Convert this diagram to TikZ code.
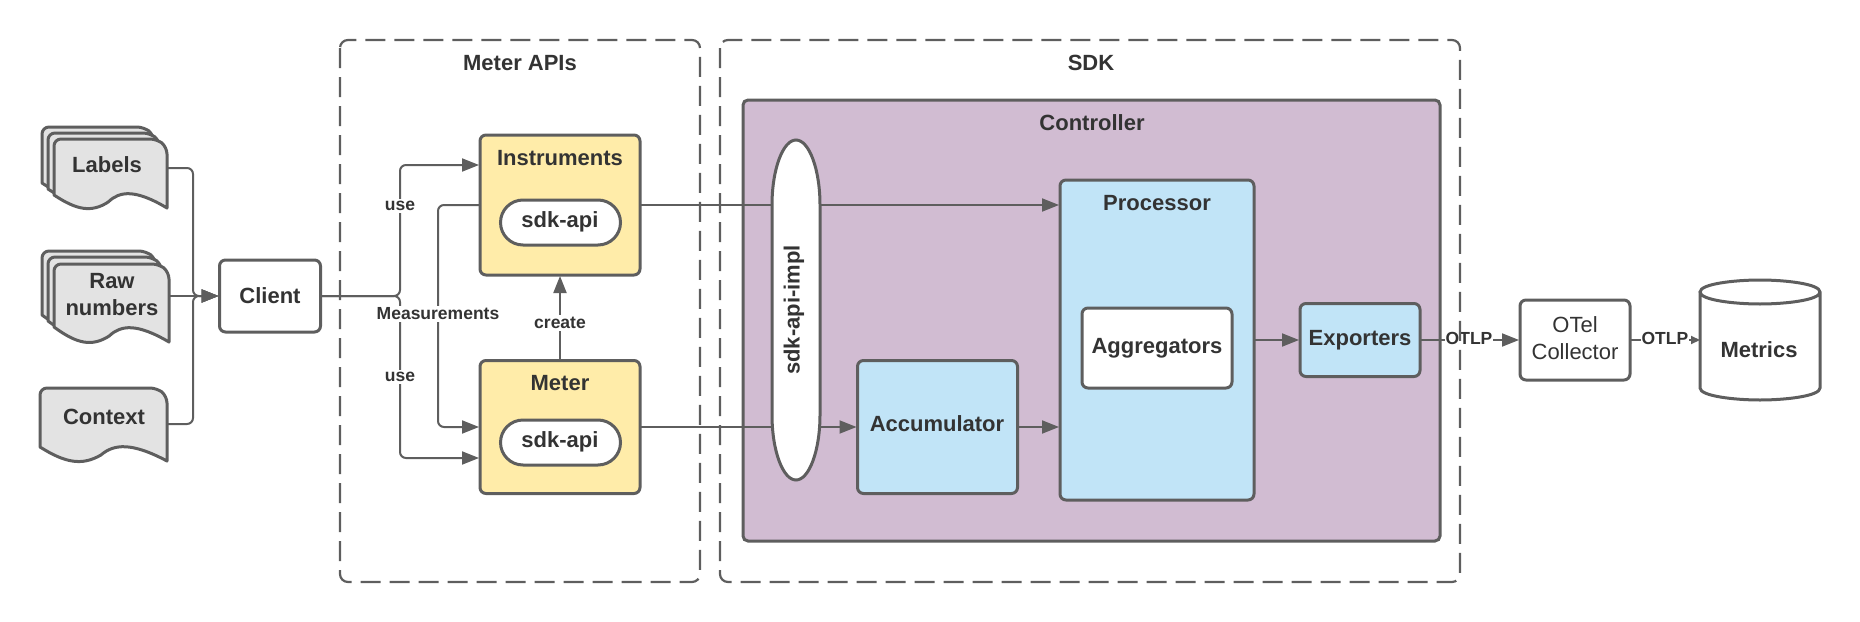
\documentclass[tikz,border=0pt]{standalone}
\usepackage{fontspec}
\setmainfont{Liberation Sans}
\usetikzlibrary{arrows.meta,shapes.geometric,shapes.misc,calc}
\definecolor{ink}{HTML}{5E5E5E}
\definecolor{txt}{HTML}{333333}
\definecolor{purp}{HTML}{D1BCD2}
\definecolor{yel}{HTML}{FFECA9}
\definecolor{blu}{HTML}{C1E4F7}
\definecolor{gry}{HTML}{E3E3E3}
\tikzset{
  shapeline/.style={draw=ink,line width=3pt},
  boxbase/.style={shapeline,rectangle,rounded corners=6pt,inner sep=0pt,outer sep=1pt,text=txt,font=\fontsize{22}{27}\selectfont\bfseries,align=center},
  whitebox/.style={boxbase,fill=white},
  yelbox/.style={boxbase,fill=yel},
  blubox/.style={boxbase,fill=blu},
  pill/.style={shapeline,rounded rectangle,fill=white,inner sep=0pt,text=txt,font=\fontsize{22}{27}\selectfont\bfseries},
  title/.style={text=txt,inner sep=0pt,font=\fontsize{22}{27}\selectfont\bfseries,align=center},
  plain/.style={text=txt,inner sep=0pt,font=\fontsize{22}{27}\selectfont,align=center},
  conn/.style={draw=ink,line width=2pt,-{Triangle[length=17pt,width=13pt]}},
  connsmall/.style={draw=ink,line width=2pt,-{Triangle[length=9pt,width=8pt]}},
  lbl/.style={fill=white,text=txt,inner sep=2pt,font=\fontsize{17.5}{20}\selectfont\bfseries},
  otlp/.style={fill=white,text=txt,inner sep=1pt,font=\fontsize{17.5}{20}\selectfont\bfseries},
  dashbox/.style={draw=ink,line width=2.2pt,rounded corners=8pt,dash pattern=on 20pt off 9pt},
  docshape/.style={shapeline,fill=gry,line join=round},
}
\newcommand{\docpath}[5]{%
  \path[docshape] (#1,#4) [rounded corners=7pt] -- (#1,#2) -- (#3-10,#2) -- (#3,#2+8) [sharp corners] -- (#3,#5)
    .. controls ({#3-.28*(#3-#1)},{#5-19}) and ({#3-.42*(#3-#1)},{#5-17}) .. ({#1+.48*(#3-#1)},{#5-6})
    .. controls ({#1+.33*(#3-#1)},{#5+5}) and ({#1+.2*(#3-#1)},{#5+2}) .. (#1,#4) -- cycle;%
}
\begin{document}
\begin{tikzpicture}[x=1pt,y=-1pt]
\useasboundingbox (0,0) rectangle (1860,621);
% containers
\draw[dashbox] (340,40) rectangle (700,582);
\draw[draw=ink,line width=3pt,fill=purp,rounded corners=5pt] (743,100) rectangle (1440,541);
\node[title] (apisT) at (520,63) {Meter APIs};
\node[title] (sdkT) at (1091,63) {SDK};
\node[title] (ctrlT) at (1092,123) {Controller};
% documents
\docpath{42}{127}{154}{183}{196}
\docpath{48}{133}{160}{189}{202}
\docpath{54}{139}{167}{195}{208}
\docpath{42}{251}{156}{315}{330}
\docpath{48}{257}{162}{321}{336}
\docpath{54}{264}{169}{327}{342}
\docpath{40}{388}{167}{447}{461}
\node[title] (labels) at (107,164.5) {Labels};
\node[title] (raw) at (112,295) {Raw\\numbers};
\node[title] (context) at (104,417) {Context};
\coordinate (labelsP) at (168,168);
\coordinate (rawP) at (170,296);
\coordinate (contextP) at (168,424);
\coordinate (busL) at (193,296);
\coordinate (useBus) at (400,296);
\coordinate (measBus) at (438,316);
% boxes
\node[whitebox,minimum width=101pt,minimum height=72pt] (client) at (270,296) {Client};
\node[yelbox,minimum width=160pt,minimum height=140pt] (instruments) at (560,205) {};
\node[yelbox,minimum width=160pt,minimum height=133pt] (meter) at (560,427) {};
\node[blubox,minimum width=160pt,minimum height=133pt] (accumulator) at (937.5,427) {};
\node[blubox,minimum width=194pt,minimum height=320pt] (processor) at (1157,340) {};
\node[blubox,minimum width=120pt,minimum height=73pt] (exporters) at (1360,340) {};
\node[whitebox,minimum width=110pt,minimum height=80pt,font=\fontsize{22}{27}\selectfont] (otel) at (1575,340) {};
% connectors
\draw[conn,rounded corners=6pt] (labelsP) -| (busL) -- (client.west);
\draw[conn,rounded corners=6pt] (contextP) -| (busL) -- (client.west);
\draw[conn] (rawP) -- (client.west);
\draw[conn,rounded corners=6pt] (client.east) -- (useBus) |- ([yshift=40pt]instruments.west);
\draw[conn,rounded corners=6pt] (client.east) -- (useBus) |- ([yshift=-31pt]meter.west);
\draw[conn,rounded corners=6pt] (instruments.west) -| (measBus) |- (meter.west);
\draw[conn] (meter.north) -- (instruments.south);
\draw[conn] (instruments.east) -- (instruments.east -| processor.west);
\draw[conn] (meter.east) -- (accumulator.west);
\draw[conn] (accumulator.east) -- (accumulator.east -| processor.west);
\draw[conn] (processor.east |- exporters.west) -- (exporters.west);
\draw[conn] (exporters.east) -- node[otlp,pos=.49,yshift=2pt] (otlpA) {OTLP} (otel.west);
\coordinate (metricsP) at (1700,340);
\draw[connsmall] (otel.east) -- node[otlp,pos=.49,yshift=2pt] (otlpB) {OTLP} (metricsP);
\draw[dashbox] (720,40) rectangle (1460,582);
\node[lbl] (useA) at (400,206) {use};
\node[lbl] (useB) at (400,377) {use};
\node[lbl] (meas) at (438,314) {Measurements};
\node[lbl] (create) at (560,323) {create};
% foreground shapes
\path[shapeline,fill=white] (772,205) .. controls (772,169) and (783,140) .. (796,140) .. controls (809,140) and (820,169) .. (820,205) -- (820,415) .. controls (820,451) and (809,480) .. (796,480) .. controls (783,480) and (772,451) .. (772,415) -- cycle;
\node[title] (implT) at (794,310) {\rotatebox{90}{sdk-api-impl}};
\node[pill,minimum width=120pt,minimum height=45pt] (pillA) at (560.5,222.5) {};
\node[pill,minimum width=120pt,minimum height=45pt] (pillB) at (560.5,442.5) {};
\node[title] (pillAT) at (560,222) {sdk-api};
\node[title] (pillBT) at (560,442) {sdk-api};
\node[title] (instT) at (560,158) {Instruments};
\node[title] (meterT) at (560,383) {Meter};
\node[title] (accT) at (937,424) {Accumulator};
\node[whitebox,minimum width=150pt,minimum height=80pt] (aggregators) at (1157,348) {};
\node[title] (aggT) at (1157,348) {Aggregators};
\node[title] (procT) at (1157,203) {Processor};
\node[title] (expT) at (1360,340) {Exporters};
\node[plain] (otelT) at (1575,338) {OTel\\Collector};
% cylinder
\draw[shapeline,fill=white] (1700,292) -- (1700,388) .. controls (1700,396) and (1734,400) .. (1760,400) .. controls (1786,400) and (1820,396) .. (1820,388) -- (1820,292) .. controls (1820,284) and (1786,280) .. (1760,280) .. controls (1734,280) and (1700,284) .. (1700,292) .. controls (1700,300) and (1734,304) .. (1760,304) .. controls (1786,304) and (1820,300) .. (1820,292);
\node[title] (metrics) at (1759,350) {Metrics};
\end{tikzpicture}
\end{document}
